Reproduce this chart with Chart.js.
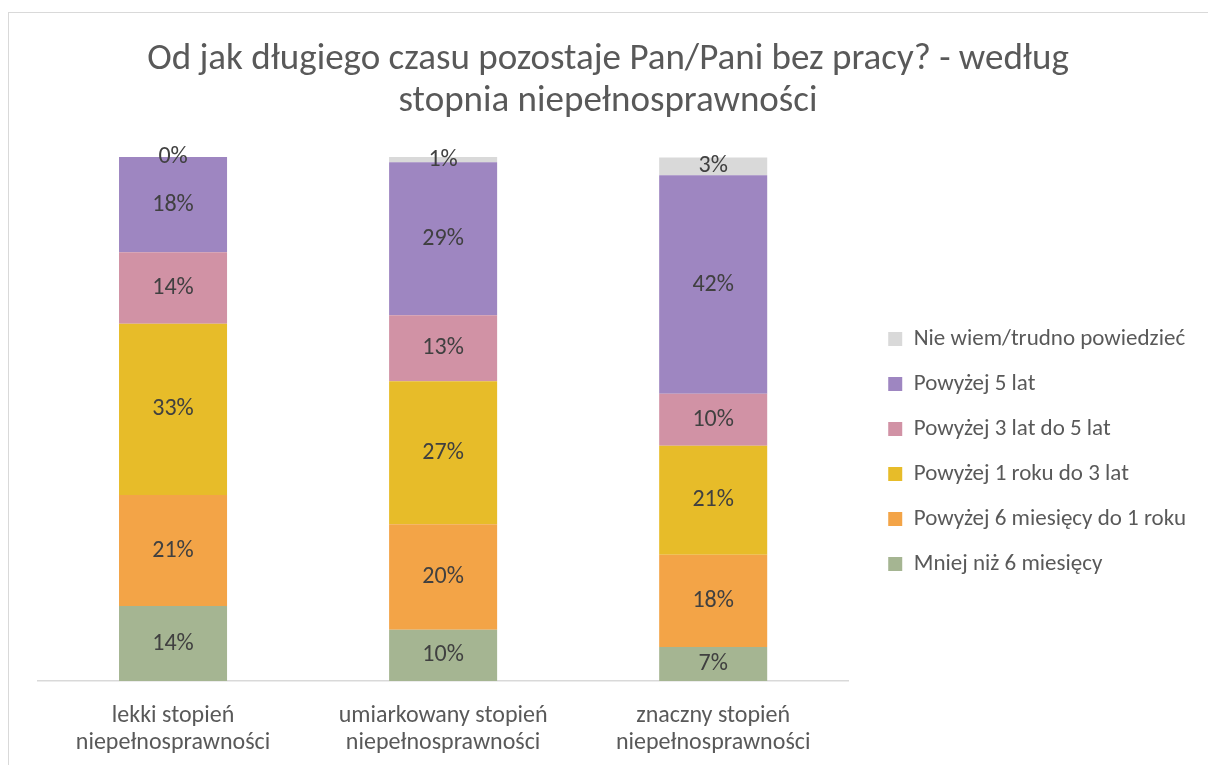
<!DOCTYPE html>
<html>
<head>
<meta charset="utf-8">
<script src="https://cdn.jsdelivr.net/npm/chart.js@4"></script>
<style>
  body { margin: 0; background: #fff; overflow: hidden; }
  #ramka { position: absolute; left: 8px; top: 12px; width: 1220px; height: 780px; border: 1px solid #d9d9d9; }
  #wrap { position: absolute; left: 0; top: 0; width: 1208px; height: 765px; }
</style>
</head>
<body>
<div id="ramka"></div>
<div id="wrap"><canvas id="wykres"></canvas></div>
<script>
// Dane (w %)
var kategorie = [['lekki stopień', 'niepełnosprawności'], ['umiarkowany stopień', 'niepełnosprawności'], ['znaczny stopień', 'niepełnosprawności']];
var serie = ['Mniej niż 6 miesięcy', 'Powyżej 6 miesięcy do 1 roku', 'Powyżej 1 roku do 3 lat', 'Powyżej 3 lat do 5 lat', 'Powyżej 5 lat', 'Nie wiem/trudno powiedzieć'];
var mniej6m = [14.3, 9.8, 6.5];
var od6mDo1r = [21.2, 20.1, 17.6];
var od1rDo3l = [32.7, 27.3, 20.8];
var od3lDo5l = [13.6, 12.6, 9.9];
var powyzej5l = [18.2, 29.2, 41.7];
var nieWiem = [0, 1.0, 3.4];
var kolory = ['#a5b592', '#f3a447', '#e7bc29', '#d192a5', '#9e86c1', '#d9d9d9'];

var FONT = "Carlito, Lato, 'Liberation Sans', sans-serif";

var wartosci = [mniej6m, od6mDo1r, od1rDo3l, od3lDo5l, powyzej5l, nieWiem];
var zbiory = [];
for (var i = 0; i < serie.length; i++) {
    zbiory.push({
        label: serie[i],
        data: wartosci[i],
        backgroundColor: kolory[i],
        borderWidth: 0,
        barPercentage: 0.4,
        categoryPercentage: 1.0
    });
}

// Etykiety procentowe na słupkach
var etykiety = {
    id: 'etykiety',
    afterDatasetsDraw: function (chart) {
        var ctx = chart.ctx;
        ctx.save();
        ctx.font = '24px ' + FONT;
        ctx.fillStyle = '#404040';
        ctx.textAlign = 'center';
        ctx.textBaseline = 'middle';
        chart.data.datasets.forEach(function (ds, i) {
            chart.getDatasetMeta(i).data.forEach(function (bar, j) {
                var y = (bar.y + bar.base) / 2;
                ctx.fillText(Math.round(ds.data[j]) + '%', bar.x, y);
            });
        });
        ctx.restore();
    }
};

// Przesunięcie legendy (odstęp od osi i wyśrodkowanie jak w Excelu)
var przesunLegende = {
    id: 'przesunLegende',
    afterLayout: function (chart) {
        if (!chart.legend) return;
        chart.legend.left += 18;
        chart.legend.right += 18;
        chart.legend.top += 126;
    }
};

var ctx = document.getElementById('wykres').getContext('2d');
var wykres = new Chart(ctx, {
    type: 'bar',
    data: { labels: kategorie, datasets: zbiory },
    options: {
        responsive: true,
        maintainAspectRatio: false,
        animation: false,
        layout: { padding: { left: 38, right: 30, top: 0, bottom: -12 } },
        plugins: {
            title: {
                display: true,
                text: ['Od jak długiego czasu pozostaje Pan/Pani bez pracy? - według', 'stopnia niepełnosprawności'],
                color: '#595959',
                font: { family: FONT, size: 37, weight: 'normal', lineHeight: 42 / 37 },
                padding: { top: 39, bottom: 34 }
            },
            legend: {
                position: 'right',
                reverse: true,
                labels: {
                    color: '#595959',
                    font: { family: FONT, size: 23 },
                    boxWidth: 14,
                    boxHeight: 14,
                    padding: 22
                }
            },
            tooltip: { enabled: false }
        },
        scales: {
            x: {
                stacked: true,
                grid: { display: false, drawTicks: false },
                border: { display: true, color: '#d9d9d9', width: 1.5 },
                ticks: {
                    color: '#595959',
                    font: { family: FONT, size: 24, lineHeight: 27 / 24 },
                    padding: 21,
                    maxRotation: 0
                }
            },
            y: {
                stacked: true,
                display: false,
                min: 0,
                max: 100
            }
        }
    },
    plugins: [etykiety, przesunLegende]
});
</script>
</body>
</html>
